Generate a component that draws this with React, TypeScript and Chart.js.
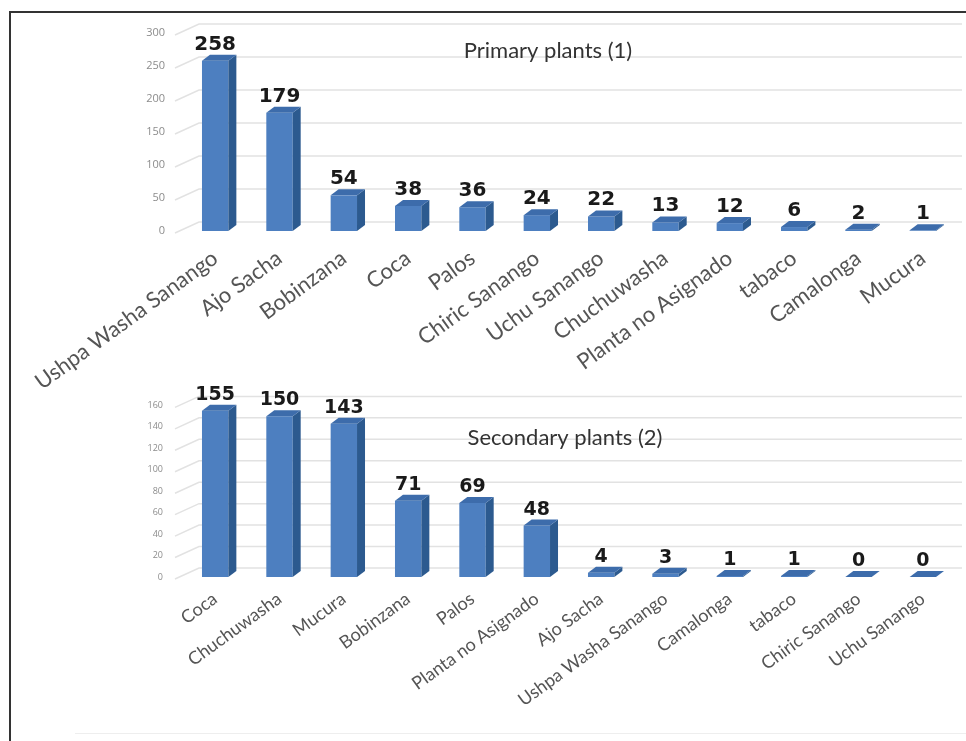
import React, { useEffect, useRef } from "react";
import { Chart, registerables } from "chart.js";

Chart.register(...registerables);

// ---------- data ----------
const primaryCategories = [
  "Ushpa Washa Sanango",
  "Ajo Sacha",
  "Bobinzana",
  "Coca",
  "Palos",
  "Chiric Sanango",
  "Uchu Sanango",
  "Chuchuwasha",
  "Planta no Asignado",
  "tabaco",
  "Camalonga",
  "Mucura",
];
const primaryValues = [258, 179, 54, 38, 36, 24, 22, 13, 12, 6, 2, 1];
const primaryTicks = [0, 50, 100, 150, 200, 250, 300];
const primaryTitle = "Primary plants (1)";

const secondaryCategories = [
  "Coca",
  "Chuchuwasha",
  "Mucura",
  "Bobinzana",
  "Palos",
  "Planta no Asignado",
  "Ajo Sacha",
  "Ushpa Washa Sanango",
  "Camalonga",
  "tabaco",
  "Chiric Sanango",
  "Uchu Sanango",
];
const secondaryValues = [155, 150, 143, 71, 69, 48, 4, 3, 1, 1, 0, 0];
const secondaryTicks = [0, 20, 40, 60, 80, 100, 120, 140, 160];
const secondaryTitle = "Secondary plants (2)";

// ---------- styling ----------
const FRONT = "#4d7fc0";
const SIDE = "#2c5a8f";
const TOP = "#3d6cab";
const DEPTH_X = 8;
const DEPTH_Y = 6;

const wallPlugin = {
  id: "wall3d",
  beforeDatasetsDraw(chart: any, _args: any, opts: any) {
    const { ctx, chartArea } = chart;
    const y = chart.scales.y;
    ctx.save();
    ctx.strokeStyle = "#e2e2e2";
    ctx.lineWidth = 1.5;
    y.ticks.forEach((t: any) => {
      const py = y.getPixelForValue(t.value);
      ctx.beginPath();
      ctx.moveTo(chartArea.left - 8, py + 2);
      ctx.lineTo(chartArea.left + 16, py - 9);
      ctx.lineTo(opts.rightEdge, py - 9);
      ctx.stroke();
    });
    ctx.restore();
  },
};

const bar3dPlugin = {
  id: "bar3d",
  afterDatasetsDraw(chart: any, _args: any, opts: any) {
    const { ctx } = chart;
    const meta = chart.getDatasetMeta(0);
    const values = chart.data.datasets[0].data;
    ctx.save();
    meta.data.forEach((bar: any, i: number) => {
      const { x, y, base, width } = bar.getProps(["x", "y", "base", "width"], true);
      const l = x - width / 2;
      const r = x + width / 2;
      // side face
      ctx.fillStyle = SIDE;
      ctx.beginPath();
      ctx.moveTo(r, y);
      ctx.lineTo(r + DEPTH_X, y - DEPTH_Y);
      ctx.lineTo(r + DEPTH_X, base - DEPTH_Y);
      ctx.lineTo(r, base);
      ctx.closePath();
      ctx.fill();
      // top face
      ctx.fillStyle = TOP;
      ctx.beginPath();
      ctx.moveTo(l, y);
      ctx.lineTo(r, y);
      ctx.lineTo(r + DEPTH_X, y - DEPTH_Y);
      ctx.lineTo(l + DEPTH_X, y - DEPTH_Y);
      ctx.closePath();
      ctx.fill();
      // value label
      ctx.fillStyle = "#1a1a1a";
      ctx.font = `bold ${opts.labelSize}px "DejaVu Sans"`;
      ctx.textAlign = "center";
      ctx.textBaseline = "alphabetic";
      ctx.fillText(String(values[i]), x, y - DEPTH_Y - 5);
    });
    // title
    ctx.fillStyle = "#333333";
    ctx.font = `${opts.titleSize}px Lato`;
    ctx.textAlign = "center";
    ctx.fillText(opts.title, opts.titleX, opts.titleY);
    ctx.restore();
  },
};

function makeConfig(
  labels: string[],
  values: number[],
  ticks: number[],
  p: {
    title: string;
    titleX: number;
    titleY: number;
    padTop: number;
    xHeight: number;
    xFont: number;
    xPad: number;
    yFont: number;
    yPad: number;
    labelSize: number;
  }
): any {
  return {
    type: "bar",
    data: {
      labels,
      datasets: [
        {
          data: values,
          backgroundColor: FRONT,
          borderWidth: 0,
          barPercentage: 0.41,
          categoryPercentage: 1,
        },
      ],
    },
    options: {
      animation: false,
      responsive: false,
      layout: { padding: { top: p.padTop, right: 11, left: 0, bottom: 0 } },
      plugins: {
        legend: { display: false },
        tooltip: { enabled: false },
        wall3d: { rightEdge: 962 },
        bar3d: {
          title: p.title,
          titleX: p.titleX,
          titleY: p.titleY,
          titleSize: 22,
          labelSize: p.labelSize,
        },
      },
      scales: {
        x: {
          grid: { display: false, drawTicks: false },
          border: { display: false },
          ticks: {
            autoSkip: false,
            maxRotation: 36,
            minRotation: 36,
            padding: p.xPad,
            color: "#555555",
            font: { family: "Lato", size: p.xFont },
          },
          afterFit: (s: any) => {
            s.height = p.xHeight;
          },
        },
        y: {
          min: ticks[0],
          max: ticks[ticks.length - 1],
          grid: { display: false, drawTicks: false },
          border: { display: false },
          ticks: {
            padding: p.yPad,
            color: "#8c8c8c",
            font: { family: "Open Sans", size: p.yFont },
          },
          afterBuildTicks: (s: any) => {
            s.ticks = ticks.map((v) => ({ value: v }));
          },
          afterFit: (s: any) => {
            s.width = 183;
          },
        },
      },
    },
    plugins: [wallPlugin, bar3dPlugin],
  };
}

export default function App() {
  const topRef = useRef<HTMLCanvasElement>(null);
  const botRef = useRef<HTMLCanvasElement>(null);

  useEffect(() => {
    const c1 = new Chart(
      topRef.current as HTMLCanvasElement,
      makeConfig(primaryCategories, primaryValues, primaryTicks, {
        title: primaryTitle,
        titleX: 548,
        titleY: 58,
        padTop: 33,
        xHeight: 169,
        xFont: 22,
        xPad: 14,
        yFont: 11,
        yPad: 18,
        labelSize: 20,
      })
    );
    const c2 = new Chart(
      botRef.current as HTMLCanvasElement,
      makeConfig(secondaryCategories, secondaryValues, secondaryTicks, {
        title: secondaryTitle,
        titleX: 565,
        titleY: 65,
        padTop: 17,
        xHeight: 164,
        xFont: 18,
        xPad: 11,
        yFont: 9,
        yPad: 20,
        labelSize: 19,
      })
    );
    return () => {
      c1.destroy();
      c2.destroy();
    };
  }, []);

  return (
    <div
      style={{
        position: "absolute",
        left: 0,
        top: 0,
        width: 966,
        height: 741,
        background: "#ffffff",
        overflow: "hidden",
      }}
    >
      <div
        style={{
          position: "absolute",
          left: 9,
          top: 11,
          width: 966,
          height: 741,
          borderLeft: "2px solid #333",
          borderTop: "2px solid #333",
        }}
      />
      <div
        style={{
          position: "absolute",
          left: 75,
          top: 733,
          width: 891,
          height: 1,
          background: "#eeeeee",
        }}
      />
      <canvas
        ref={topRef}
        width={966}
        height={400}
        style={{ position: "absolute", left: 0, top: 0, display: "block" }}
      />
      <canvas
        ref={botRef}
        width={966}
        height={361}
        style={{ position: "absolute", left: 0, top: 380, display: "block" }}
      />
    </div>
  );
}
